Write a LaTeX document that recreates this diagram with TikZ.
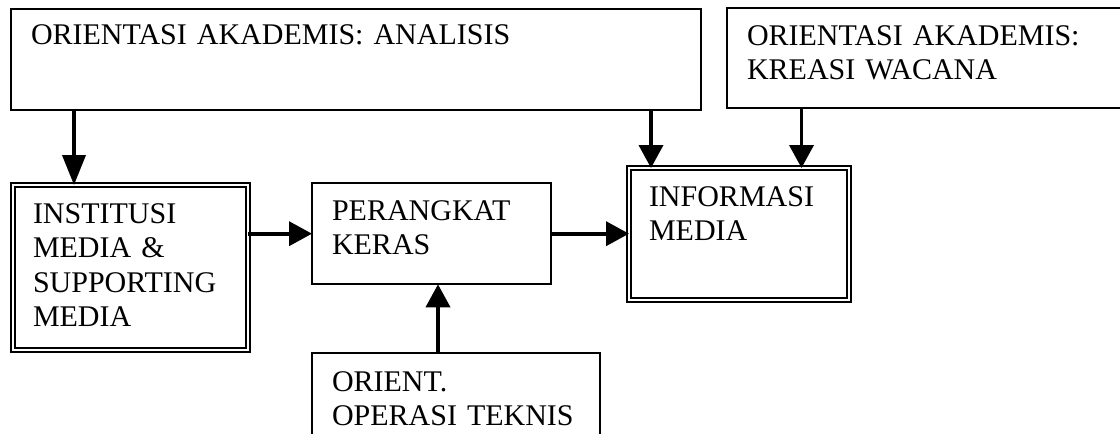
\documentclass[tikz,border=0pt]{standalone}
\usepackage{fontspec}
\setmainfont{Liberation Serif}
\usetikzlibrary{arrows.meta}

\begin{document}
\begin{tikzpicture}[x=1pt,y=-1pt,font=\fontsize{30}{34.5}\selectfont,
  box/.style={draw,line width=1.9pt,anchor=north west,align=left,
    inner xsep=20pt,inner ysep=0pt,outer sep=0pt},
  dbox/.style={box,double,double distance=1.9pt},
  arr/.style={line width=3.8pt,-{Triangle[length=23pt,width=24pt]}}]

  \useasboundingbox (0,0) rectangle (1120,434);
  \clip (0,0) rectangle (1120,434);

  \node[box,text width=650pt,text height=35.5pt,text depth=65.5pt]  (A) at (11,9)    {ORIENTASI AKADEMIS: ANALISIS};
  \node[box,text width=363pt,text height=37.3pt,text depth=63.3pt]  (B) at (727,7.7) {ORIENTASI AKADEMIS:\\KREASI WACANA};
  \node[dbox,text width=195pt,text height=38pt,text depth=127pt]    (C) at (13,185)  {INSTITUSI\\MEDIA \&\\SUPPORTING\\MEDIA};
  \node[box,text width=199pt,text height=37pt,text depth=64.3pt]    (D) at (312,183) {PERANGKAT\\KERAS};
  \node[dbox,text width=180pt,text height=38pt,text depth=94pt]     (E) at (629,168) {INFORMASI\\MEDIA};
  \node[box,text width=248pt,text height=38pt,text depth=89pt]      (F) at (312,353) {ORIENT.\\OPERASI TEKNIS};

  \path [arr]
        ([xshift=63pt]A.south west)   edge [-{Triangle[length=30pt,width=23pt]}] ([xshift=61pt]C.north west)
        ([yshift=-48.7pt]C.north east) edge ([yshift=-50.7pt]D.north west)
        ([yshift=-50.7pt]D.north east) edge ([yshift=-65.7pt]E.north west)
        ([xshift=640pt]A.south west)  edge ([xshift=22pt]E.north west)
        ([xshift=74.5pt]B.south west) edge ([xshift=172.5pt]E.north west)
        ([xshift=126pt]F.north west)  edge ([xshift=126pt]D.south west);
\end{tikzpicture}
\end{document}
